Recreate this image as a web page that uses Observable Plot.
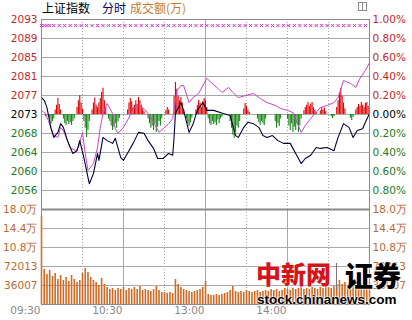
<!DOCTYPE html>
<html><head><meta charset="utf-8">
<script src="https://cdn.jsdelivr.net/npm/d3@7"></script>
<script src="https://cdn.jsdelivr.net/npm/@observablehq/plot@0.6"></script>
<style>
html,body{margin:0;padding:0;background:#fff;}
#wrap{position:relative;width:412px;height:320px;overflow:hidden;background:#fff;}
#wrap svg{position:absolute;left:0;top:0;}
.t{position:absolute;white-space:nowrap;}
</style></head><body><div id="wrap"></div>
<script>
// ---- data ----
const basePrice = 2072.6;
const pctSteps = [1.0, 0.8, 0.6, 0.4, 0.2, 0, -0.2, -0.4, -0.6, -0.8];
const priceLabels = ["2093","2089","2085","2081","2077","2073","2068","2064","2060","2056"];
const pctLabels = ["1.00%","0.80%","0.60%","0.40%","0.20%","0.00%","0.20%","0.40%","0.60%","0.80%"];
const volMax = 180033;
const volTicks = [36007, 72013, 108020, 144026, 180033];
const volLabels = ["36007", "72013", "10.8万", "14.4万", "18.0万"];
const timeTicks = [0, 60, 120, 180];
const timeLabels = ["09:30", "10:30", "13:00", "14:00"];
const priceDotted = [30, 60, 90, 150, 180, 210];
const priceSolid = [120];
const volDotted = [30, 90, 150, 210];
const volSolid = [60, 120, 180];

// index (minutes since 09:30, trading time)
const indexT = [0,2,4,7,9,12,14,16,19,21,23,26,28,31,34,35,38,41,42,45,48,52,54,58,60,64,67,71,75,78,82,85,89,93,96,97,98,102,104,108,111,114,118,121,126,133,138,142,144,148,151,155,159,162,165,169,173,177,182,186,190,193,197,201,204,209,214,217,221,225,228,231,235,237,240];
const indexV = [2076.3,2075.7,2074.1,2069.5,2067.6,2068.7,2070.6,2069.8,2066.9,2065.4,2064.1,2064.7,2066.9,2063.2,2058.9,2057.5,2059.7,2064.1,2062.6,2067.6,2066.9,2066.3,2067.4,2063.2,2062.6,2064.7,2066.3,2068.7,2068.5,2066.9,2065.2,2063.0,2063.0,2064.1,2063.7,2067.6,2072.8,2075.2,2073.5,2068.7,2070.6,2073.5,2075.2,2073.5,2073.5,2072.8,2072.4,2068.0,2067.6,2069.8,2070.9,2070.6,2069.8,2068.0,2067.6,2068.0,2066.9,2066.3,2066.3,2064.1,2061.9,2063.0,2063.7,2065.4,2065.2,2065.4,2064.7,2067.6,2070.6,2069.8,2067.6,2069.1,2069.5,2070.9,2072.8];

// second (magenta) line
const avgT = [0,3,5,9,12,14,16,21,25,27,30,32,34,38,41,43,45,48,52,54,56,60,64,67,71,75,78,82,86,89,93,96,98,99,102,104,108,111,115,119,121,124,129,132,137,140,144,149,155,160,165,171,175,180,184,190,193,197,200,204,209,214,217,221,226,230,233,237,240];
const avgV = [2073.5,2072.8,2071.3,2068.0,2067.6,2069.8,2069.1,2065.4,2064.7,2065.4,2068.7,2064.1,2060.4,2061.9,2065.4,2069.8,2072.8,2075.0,2072.8,2069.5,2068.5,2069.8,2071.9,2073.9,2074.6,2073.9,2072.8,2070.9,2068.7,2069.5,2070.6,2071.7,2075.7,2077.8,2078.9,2078.9,2075.2,2076.3,2077.2,2079.4,2080.5,2079.6,2078.3,2077.4,2078.5,2077.4,2076.3,2076.7,2077.2,2076.1,2075.2,2074.6,2073.9,2073.5,2073.0,2068.7,2070.2,2071.7,2072.8,2074.1,2074.6,2075.2,2076.3,2080.0,2079.4,2078.5,2080.5,2082.2,2083.9];

// red/green bars [minute, offset from base]
const flowBars = [[3,-0.5],[6,-1.0],[7,-2.0],[8,-1.5],[9,-1.0],[10,1.0],[11,2.0],[12,3.5],[13,2.2],[14,1.0],
[16,-1.0],[17,-2.0],[18,-2.4],[19,-1.5],[20,-2.2],[21,-1.8],[22,-2.4],[23,-1.5],[24,-1.0],
[26,1.5],[27,3.0],[28,4.1],[29,2.5],[30,1.2],[31,-1.5],[32,-3.0],[33,-5.0],[34,-3.5],[35,-1.5],
[37,1.0],[38,2.5],[39,3.6],[40,2.0],[41,1.5],[42,2.5],[43,3.5],[44,4.8],[45,5.7],[46,3.0],[47,1.5],
[49,-1.0],[50,-1.5],[51,-2.5],[52,-3.5],[53,-2.8],[54,-2.0],[55,-3.0],[56,-1.5],[57,-0.8],
[63,1.0],[64,2.5],[65,3.5],[66,2.8],[67,1.5],[68,2.0],[69,3.0],[70,2.2],[71,3.7],[72,3.0],[73,2.0],[74,1.2],[75,0.6],
[78,-1.0],[79,-2.0],[80,-3.0],[81,-2.5],[82,-3.5],[83,-2.0],[84,-3.9],[85,-2.8],[86,-1.5],[87,-2.5],[88,-1.0],
[91,0.8],[92,1.5],[93,1.0],[97,4.0],[98,7.0],[99,5.5],[100,4.0],[101,3.0],[102,3.7],[103,2.5],[104,1.0],
[106,-1.0],[107,-2.0],[108,-2.6],[109,-1.8],[110,-0.8],
[113,1.0],[114,2.0],[115,3.1],[116,2.5],[117,1.5],[118,2.8],[119,3.5],[120,3.0],[121,1.5],
[122,-1.0],[123,-2.0],[124,-2.4],[125,-1.5],[126,-2.2],[127,-1.8],[128,-2.4],[129,-1.2],[130,-2.0],[131,-1.0],[132,-0.6],
[138,-1.5],[139,-3.0],[140,-4.5],[141,-5.2],[142,-4.0],[143,-2.5],[144,-3.0],[145,-1.5],
[148,1.2],[149,2.4],[150,1.8],[151,1.0],[152,0.5],
[158,-1.0],[159,-1.8],[160,-2.4],[161,-1.5],[162,-2.0],[163,-2.4],[164,-1.0],
[171,-1.5],[172,-3.0],[173,-2.0],[174,-2.6],[175,-1.0],
[180,-1.0],[181,-2.5],[182,-3.5],[183,-2.0],[184,-3.9],[185,-2.8],[186,-3.5],[187,-2.0],[188,-3.9],[189,-2.5],[190,-1.0],
[192,0.8],[193,1.5],[194,2.0],[195,2.6],[196,1.8],[197,2.3],[198,2.6],[199,1.5],[200,1.0],[201,0.5],
[204,0.8],[205,1.5],[206,1.0],[207,1.4],[208,0.6],[212,-0.5],[213,-0.9],[214,-0.5],
[216,1.5],[217,3.0],[218,4.5],[219,5.7],[220,4.0],[221,2.5],[222,1.2],[226,-0.8],[227,-1.3],[228,-0.6],
[230,1.0],[231,1.5],[232,2.2],[233,1.8],[234,2.6],[235,2.0],[236,1.5],[237,2.4],[238,2.6],[239,1.8],[240,1.0]];

// turnover, one bar every 2 minutes
const volume = [166800,66300,56900,64400,53100,58700,47400,55000,45500,51200,43600,55000,47400,41700,45500,58700,68200,60600,51200,45500,41700,36000,49300,37900,32200,28400,30300,26500,30300,28400,32200,26500,30300,28400,32200,28400,34100,26500,28400,26500,24600,28400,34100,26500,22700,22700,20800,22700,20800,47400,37900,32200,28400,26500,24600,22700,24600,26500,28400,32200,43600,19000,17100,17100,19000,17100,19000,20800,22700,26500,34100,24600,22700,24600,22700,26500,24600,22700,24600,26500,22700,24600,26500,24600,28400,26500,28400,24600,26500,30300,28400,26500,30300,28400,30300,32200,28400,30300,28400,32200,30300,28400,32200,30300,34100,32200,30300,34100,37900,45500,37900,41700,36000,39800,37900,41700,36000,39800,43600,37900,41700];

// magenta marker row
const markLevel = 2092.0;
const markT = [0,2,4,6,9,13,17,21,25,29,33,37,41,45,49,53,57,61,65,69,73,77,81,85,89,93,97,101,105,109,113,117,121,125,129,133,137,141,145,149,153,157,161,165,169,173,177,181,185,189,193,197,201,205,209,213,217,221,225,229,233,237];

// ---- drawing ----
const W = 412, H = 320;
const red = "#c02a2a", green = "#237a23", gridC = "#a8a8a8", frameC = "#8a8a8a";
const labelColor = p => p > 0 ? red : p < 0 ? green : "#000";
const pTick = p => basePrice * (1 + p / 100);
const font = {background: "transparent", fontFamily: "'DejaVu Sans', sans-serif", fontSize: "10.5px", overflow: "visible"};
const indexData = indexT.map((t, i) => ({t, v: indexV[i]}));
const avgData = avgT.map((t, i) => ({t, v: avgV[i]}));
const flow = flowBars.map(([t, v]) => ({t, v}));

const pricePlot = Plot.plot({
  width: W, height: H, marginTop: 19, marginBottom: 111, marginLeft: 41, marginRight: 43,
  style: font,
  color: {type: "identity"},
  x: {domain: [0, 240], axis: null},
  y: {domain: [pTick(-1), pTick(1)], axis: null},
  marks: [
    Plot.ruleY(pctSteps.slice(1), {y: pTick, stroke: gridC}),
    Plot.ruleX(priceDotted, {x: d => d, stroke: gridC, strokeDasharray: "1,2"}),
    Plot.ruleX(priceSolid, {x: d => d, stroke: gridC}),
    Plot.ruleX(flow, {x: "t", y1: () => basePrice, y2: d => basePrice + d.v, stroke: d => d.v > 0 ? "#e00000" : "#1a861a", strokeWidth: 1.1}),
    Plot.line(avgData, {x: "t", y: "v", stroke: "#cc44cc", strokeWidth: 1}),
    Plot.line(indexData, {x: "t", y: "v", stroke: "#000033", strokeWidth: 1.1}),
    Plot.dot(markT, {x: d => d, y: () => markLevel, symbol: "times", r: 1.6, stroke: "#cc33cc", strokeWidth: 1}),
    Plot.frame({stroke: frameC}),
    Plot.text(pctSteps, {y: pTick, text: (d, i) => priceLabels[i], frameAnchor: "left", textAnchor: "end", dx: -4, fill: labelColor}),
    Plot.text(pctSteps, {y: pTick, text: (d, i) => pctLabels[i], frameAnchor: "right", textAnchor: "start", dx: 3, fill: labelColor})
  ]
});

const volPlot = Plot.plot({
  width: W, height: H, marginTop: 209, marginBottom: 16, marginLeft: 41, marginRight: 43,
  style: font,
  x: {domain: [0, 240], axis: null},
  y: {domain: [0, volMax], axis: null},
  marks: [
    Plot.ruleY(volTicks.slice(0, 4), {y: d => d, stroke: gridC}),
    Plot.ruleX(volDotted, {x: d => d, stroke: gridC, strokeDasharray: "1,2"}),
    Plot.ruleX(volSolid, {x: d => d, stroke: gridC}),
    Plot.ruleX(volume, {x: (d, i) => i * 2, y1: () => 0, y2: d => d, stroke: "#cf6a24", strokeWidth: 1.6}),
    Plot.ruleY([volMax], {y: d => d, stroke: frameC, strokeWidth: 2}),
    Plot.frame({stroke: frameC}),
    Plot.text(volTicks, {y: d => d, text: (d, i) => volLabels[i], frameAnchor: "left", textAnchor: "end", dx: -4, fill: "#bb6a2e"}),
    Plot.text(volTicks, {y: d => d, text: (d, i) => volLabels[i], frameAnchor: "right", textAnchor: "start", dx: 3, fill: "#bb6a2e"}),
    Plot.text(timeTicks, {x: d => d, text: (d, i) => timeLabels[i], frameAnchor: "bottom", textAnchor: "end", dx: -1, dy: 9, fill: "#8a8a8a"})
  ]
});

const wrap = document.getElementById("wrap");
wrap.appendChild(volPlot);
wrap.appendChild(pricePlot);

function addText(txt, css) {
  const d = document.createElement("div");
  d.className = "t";
  d.textContent = txt;
  d.style.cssText += css;
  wrap.appendChild(d);
  return d;
}
addText("上证指数", "left:42px;top:0;font-family:'Noto Sans CJK SC';font-size:12px;line-height:15px;color:#000;");
addText("分时", "left:102px;top:0;font-family:'Noto Sans CJK SC';font-size:12px;line-height:15px;color:#000066;");
addText("成交额(万)", "left:130px;top:0;font-family:'Noto Sans CJK SC';font-size:12px;line-height:15px;color:#c27c3a;");
// small toggle icon
const icon = document.createElement("div");
icon.style.cssText = "position:absolute;left:358px;top:2px;width:7px;height:7px;border:1px solid #8a8a8a;background:#fff;";
const bar = document.createElement("div");
bar.style.cssText = "position:absolute;left:3px;top:0;width:1px;height:7px;background:#8a8a8a;";
icon.appendChild(bar);
wrap.appendChild(icon);
// watermark
const halo = "text-shadow:0 0 2px #fff,0 0 2px #fff,0 0 1px #fff;";
addText("中新网", "left:256px;top:255px;font-family:'Noto Sans CJK SC';font-weight:900;font-size:25px;line-height:36px;color:#d4161c;" + halo);
const sep = document.createElement("div");
sep.style.cssText = "position:absolute;left:336px;top:263px;width:1px;height:27px;background:#777;";
wrap.appendChild(sep);
addText("证券", "left:345px;top:255px;font-family:'Noto Sans CJK SC';font-weight:900;font-size:28px;line-height:40px;color:#000;" + halo);
addText("stock.chinanews.com", "left:257px;top:292px;font-family:'Liberation Sans',Arial,sans-serif;font-weight:bold;font-size:13.5px;line-height:16px;color:#000;" + halo);
</script></body></html>
